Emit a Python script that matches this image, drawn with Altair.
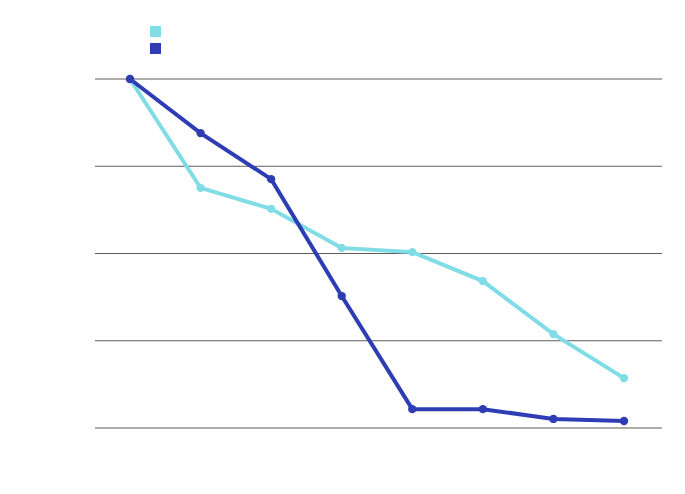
import altair as alt
import pandas as pd

categories = ["1", "2", "3", "4", "5", "6", "7", "8"]
series_names = ["A", "B"]
series_a = [100, 68.8, 62.8, 51.6, 50.4, 42.1, 26.9, 14.3]
series_b = [100, 84.5, 71.3, 37.8, 5.4, 5.4, 2.6, 2.0]
grid_values = [0, 25, 50, 75, 100]

rows = []
for c, v in zip(categories, series_a):
    rows.append({"cat": c, "series": series_names[0], "value": v})
for c, v in zip(categories, series_b):
    rows.append({"cat": c, "series": series_names[1], "value": v})
df = pd.DataFrame(rows)
grid_df = pd.DataFrame({"value": grid_values})

color = alt.Color(
    "series:N",
    scale=alt.Scale(domain=series_names, range=["#80dde6", "#2e3db4"]),
    legend=alt.Legend(
        title=None,
        orient="none",
        legendX=55,
        legendY=-53,
        symbolType="square",
        symbolSize=120,
        symbolOpacity=1,
        symbolStrokeWidth=0,
        labelExpr="''",
        rowPadding=6,
        padding=0,
    ),
)

y_scale = alt.Scale(domain=[0, 100], nice=False, zero=True)

x = alt.X("cat:N", sort=categories, axis=None,
          scale=alt.Scale(type="point", range=[35, 529], padding=0))
y = alt.Y("value:Q", scale=y_scale, axis=None)

grid = alt.Chart(grid_df).mark_rule(color="#5c5c5c", strokeWidth=1.2).encode(
    y=alt.Y("value:Q", scale=y_scale, axis=None),
    x=alt.value(0),
    x2=alt.value(567),
)

base = alt.Chart(df).encode(x=x, y=y, color=color)
lines = base.mark_line(strokeWidth=4)
points = base.mark_circle(size=70, opacity=1)

chart = (
    (grid + lines + points)
    .properties(
        width=567,
        height=349,
        autosize=alt.AutoSizeParams(type="none"),
        padding={"left": 87, "top": 71, "right": 15, "bottom": 58},
    )
    .configure_view(stroke=None)
)

chart.save("out.html", embed_options={"renderer": "svg", "actions": False})
